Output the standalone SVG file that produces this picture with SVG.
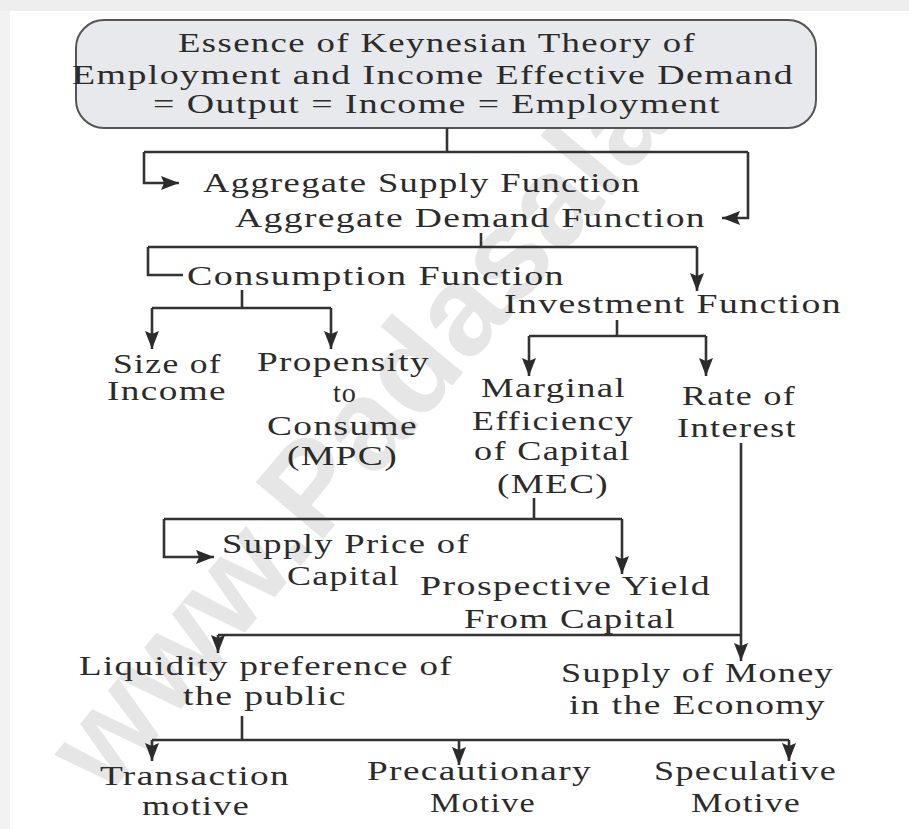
<svg xmlns="http://www.w3.org/2000/svg" width="909" height="829" viewBox="0 0 909 829">
  <style>
    .t { font-family: "Liberation Serif", "Times New Roman", serif; font-size: 27px; fill: #2b2b2b; letter-spacing: 1px; }
    .tt { font-size: 27px; }
    .c { fill: none; stroke: #333; stroke-width: 2.6; }
    .wm { font-family: "Liberation Sans", Arial, sans-serif; font-size: 128px; font-weight: bold; fill: #e6e6e6; }
  </style>
  <defs>
    <marker id="ah" markerUnits="userSpaceOnUse" markerWidth="18" markerHeight="14" refX="18" refY="7" orient="auto">
      <path d="M0,0 L18,7 L0,14 L3,7 z" fill="#2b2b2b"/>
    </marker>
  </defs>

  <rect x="0" y="0" width="909" height="829" fill="#ffffff"/>
  <rect x="0" y="0" width="909" height="11" fill="#eeeeee"/>
  <rect x="0" y="11" width="10" height="818" fill="#f2f2f2"/>

  <text class="wm" transform="translate(106,798) rotate(-50)">www.Padasalai</text>

  <g id="title">
    <rect x="76" y="20" width="740" height="108" rx="28" ry="28" fill="#e7e9ec" stroke="#555" stroke-width="2"/>
    <text class="t tt" x="178" y="52" textLength="518" lengthAdjust="spacingAndGlyphs">Essence of Keynesian Theory of</text>
    <text class="t tt" x="72" y="84" textLength="722" lengthAdjust="spacingAndGlyphs">Employment and Income Effective Demand</text>
    <text class="t tt" x="153" y="113" textLength="568" lengthAdjust="spacingAndGlyphs">= Output = Income = Employment</text>
  </g>

  <g id="agg-supply">
    <text class="t" x="203" y="192" textLength="438" lengthAdjust="spacingAndGlyphs">Aggregate Supply Function</text>
  </g>
  <g id="agg-demand">
    <text class="t" x="235" y="227" textLength="471" lengthAdjust="spacingAndGlyphs">Aggregate Demand Function</text>
  </g>
  <g id="consumption">
    <text class="t" x="187" y="285" textLength="378" lengthAdjust="spacingAndGlyphs">Consumption Function</text>
  </g>
  <g id="investment">
    <text class="t" x="504" y="313" textLength="338" lengthAdjust="spacingAndGlyphs">Investment Function</text>
  </g>
  <g id="size-income">
    <text class="t" x="113" y="373" textLength="109" lengthAdjust="spacingAndGlyphs">Size of</text>
    <text class="t" x="107" y="400" textLength="120" lengthAdjust="spacingAndGlyphs">Income</text>
  </g>
  <g id="propensity">
    <text class="t" x="257" y="371" textLength="173" lengthAdjust="spacingAndGlyphs">Propensity</text>
    <text class="t" x="333" y="402" textLength="24" lengthAdjust="spacingAndGlyphs">to</text>
    <text class="t" x="267" y="435" textLength="151" lengthAdjust="spacingAndGlyphs">Consume</text>
    <text class="t" x="287" y="465" textLength="111" lengthAdjust="spacingAndGlyphs">(MPC)</text>
  </g>
  <g id="mec">
    <text class="t" x="481" y="397" textLength="145" lengthAdjust="spacingAndGlyphs">Marginal</text>
    <text class="t" x="472" y="430" textLength="162" lengthAdjust="spacingAndGlyphs">Efficiency</text>
    <text class="t" x="474" y="460" textLength="157" lengthAdjust="spacingAndGlyphs">of Capital</text>
    <text class="t" x="497" y="493" textLength="112" lengthAdjust="spacingAndGlyphs">(MEC)</text>
  </g>
  <g id="rate-interest">
    <text class="t" x="682" y="405" textLength="114" lengthAdjust="spacingAndGlyphs">Rate of</text>
    <text class="t" x="677" y="437" textLength="120" lengthAdjust="spacingAndGlyphs">Interest</text>
  </g>
  <g id="supply-price">
    <text class="t" x="222" y="553" textLength="248" lengthAdjust="spacingAndGlyphs">Supply Price of</text>
    <text class="t" x="287" y="585" textLength="113" lengthAdjust="spacingAndGlyphs">Capital</text>
  </g>
  <g id="prospective-yield">
    <text class="t" x="420" y="595" textLength="291" lengthAdjust="spacingAndGlyphs">Prospective Yield</text>
    <text class="t" x="464" y="628" textLength="212" lengthAdjust="spacingAndGlyphs">From Capital</text>
  </g>
  <g id="liquidity">
    <text class="t" x="79" y="675" textLength="374" lengthAdjust="spacingAndGlyphs">Liquidity preference of</text>
    <text class="t" x="183" y="705" textLength="164" lengthAdjust="spacingAndGlyphs">the public</text>
  </g>
  <g id="money-supply">
    <text class="t" x="561" y="682" textLength="273" lengthAdjust="spacingAndGlyphs">Supply of Money</text>
    <text class="t" x="569" y="714" textLength="257" lengthAdjust="spacingAndGlyphs">in the Economy</text>
  </g>
  <g id="transaction">
    <text class="t" x="100" y="785" textLength="190" lengthAdjust="spacingAndGlyphs">Transaction</text>
    <text class="t" x="142" y="815" textLength="108" lengthAdjust="spacingAndGlyphs">motive</text>
  </g>
  <g id="precautionary">
    <text class="t" x="367" y="780" textLength="225" lengthAdjust="spacingAndGlyphs">Precautionary</text>
    <text class="t" x="430" y="812" textLength="106" lengthAdjust="spacingAndGlyphs">Motive</text>
  </g>
  <g id="speculative">
    <text class="t" x="654" y="780" textLength="183" lengthAdjust="spacingAndGlyphs">Speculative</text>
    <text class="t" x="691" y="812" textLength="110" lengthAdjust="spacingAndGlyphs">Motive</text>
  </g>

  <g id="connectors">
    <path class="c" d="M447,128 V152 M144,152 H748"/>
    <path class="c" d="M144,152 V183 H179" marker-end="url(#ah)"/>
    <path class="c" d="M748,152 V218 H722" marker-end="url(#ah)"/>
    <path class="c" d="M481,233 V247 M148,247 H697 M148,247 V275 H183"/>
    <path class="c" d="M697,247 V291" marker-end="url(#ah)"/>
    <path class="c" d="M242,290 V308 M152,308 H331"/>
    <path class="c" d="M152,308 V349" marker-end="url(#ah)"/>
    <path class="c" d="M331,308 V349" marker-end="url(#ah)"/>
    <path class="c" d="M617,320 V336 M529,336 H706"/>
    <path class="c" d="M529,336 V376" marker-end="url(#ah)"/>
    <path class="c" d="M706,336 V376" marker-end="url(#ah)"/>
    <path class="c" d="M534,498 V519 M164,519 H622"/>
    <path class="c" d="M164,519 V557 H214" marker-end="url(#ah)"/>
    <path class="c" d="M622,519 V574" marker-end="url(#ah)"/>
    <path class="c" d="M741,443 V661" marker-end="url(#ah)"/>
    <path class="c" d="M609,625 V635 M218,635 H741"/>
    <path class="c" d="M218,635 V653" marker-end="url(#ah)"/>
    <path class="c" d="M242,716 V740 M152,740 H789"/>
    <path class="c" d="M152,740 V761" marker-end="url(#ah)"/>
    <path class="c" d="M459,740 V765" marker-end="url(#ah)"/>
    <path class="c" d="M789,740 V761" marker-end="url(#ah)"/>
  </g>
</svg>
